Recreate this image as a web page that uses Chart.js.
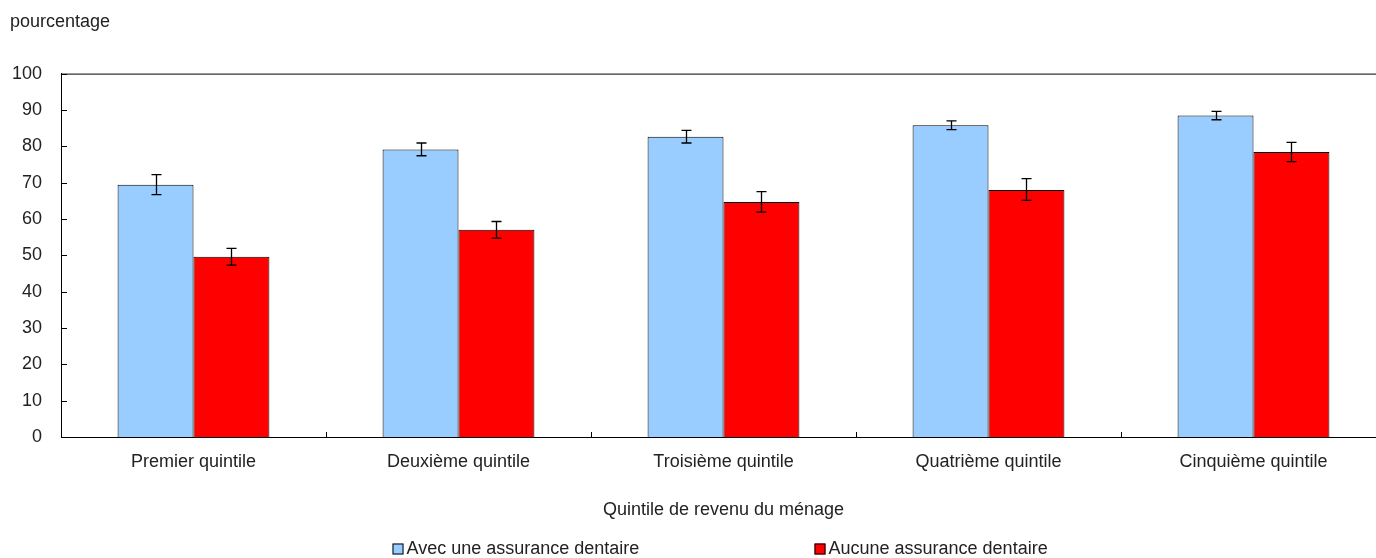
<!DOCTYPE html>
<html>
<head>
<meta charset="utf-8">
<script src="https://cdn.jsdelivr.net/npm/chart.js@4.4.1/dist/chart.umd.min.js"></script>
<style>
html, body { margin: 0; padding: 0; background: #fff; }
#wrap { width: 1376px; height: 558px; overflow: hidden; }
#inner { width: 1390px; height: 558px; }
</style>
</head>
<body>
<div id="wrap"><div id="inner"><canvas id="myChart"></canvas></div></div>
<script>
// donnees
var quintiles = ['Premier quintile', 'Deuxième quintile', 'Troisième quintile', 'Quatrième quintile', 'Cinquième quintile'];
var avecAssurance = [69.4, 79.1, 82.6, 85.8, 88.5];
var avecBas = [66.7, 77.4, 80.9, 84.6, 87.3];
var avecHaut = [72.2, 80.9, 84.4, 87.0, 89.6];
var aucuneAssurance = [49.6, 57.0, 64.7, 68.0, 78.4];
var aucuneBas = [47.3, 54.7, 61.9, 65.1, 75.8];
var aucuneHaut = [51.9, 59.3, 67.5, 71.1, 81.1];
var yTicks = [0, 10, 20, 30, 40, 50, 60, 70, 80, 90, 100];

var police = "'Liberation Sans', Arial, sans-serif";
var taille = 18;

// barres d'erreur, cadre et petites graduations vers l'interieur
var cadre = {
    id: 'cadre',
    afterDatasetsDraw: function(chart) {
        var c = chart.ctx;
        var a = chart.chartArea;
        var xs = chart.scales.x;
        var ys = chart.scales.y;
        var bornes = [[avecBas, avecHaut], [aucuneBas, aucuneHaut]];
        c.save();
        c.strokeStyle = '#000';
        c.lineWidth = 1.3;
        bornes.forEach(function(b, i) {
            chart.getDatasetMeta(i).data.forEach(function(el, j) {
                var x = Math.round(el.x) + 0.5;
                var y1 = ys.getPixelForValue(b[0][j]);
                var y2 = ys.getPixelForValue(b[1][j]);
                c.beginPath();
                c.moveTo(x, y1); c.lineTo(x, y2);
                c.moveTo(x - 5, y1); c.lineTo(x + 5, y1);
                c.moveTo(x - 5, y2); c.lineTo(x + 5, y2);
                c.stroke();
            });
        });
        c.lineWidth = 1;
        c.strokeRect(a.left + 0.5, a.top + 0.5, a.right - a.left - 1, a.bottom - a.top);
        c.beginPath();
        yTicks.forEach(function(v) {
            var y = Math.round(ys.getPixelForValue(v)) + 0.5;
            c.moveTo(a.left, y); c.lineTo(a.left + 6, y);
        });
        for (var i = 1; i < quintiles.length; i++) {
            var x = Math.round((xs.getPixelForValue(i - 1) + xs.getPixelForValue(i)) / 2) + 0.5;
            c.moveTo(x, a.bottom); c.lineTo(x, a.bottom - 5);
        }
        c.stroke();
        c.restore();
    }
};

// legende du bas, deux items
var legendeBas = {
    id: 'legendeBas',
    afterDraw: function(chart) {
        var c = chart.ctx;
        var a = chart.chartArea;
        var centre = (a.left + a.right) / 2;
        var depart = [centre - 331, centre + 91];
        var y = chart.height - 9;
        c.save();
        c.font = taille + 'px ' + police;
        c.textBaseline = 'middle';
        c.textAlign = 'left';
        chart.data.datasets.forEach(function(ds, i) {
            var x = depart[i];
            c.fillStyle = ds.backgroundColor;
            c.fillRect(x, y - 5.5, 11, 11);
            c.strokeStyle = '#000';
            c.lineWidth = 1;
            c.strokeRect(x + 0.5, y - 5, 10, 10);
            c.fillStyle = '#222';
            c.fillText(ds.label, x + 14, y);
        });
        c.restore();
    }
};

var ctx = document.getElementById('myChart').getContext('2d');
var myChart = new Chart(ctx,
{
    type: 'bar',
    data:
    {
        labels: quintiles,
        datasets:
        [
            {
                label: 'Avec une assurance dentaire',
                data: avecAssurance,
                backgroundColor: '#99CCFF',
                borderColor: '#000',
                borderWidth: 1
            },
            {
                label: 'Aucune assurance dentaire',
                data: aucuneAssurance,
                backgroundColor: '#FF0000',
                borderColor: '#000',
                borderWidth: 1
            }
        ]
    },
    options:
    {
        responsive: true,
        maintainAspectRatio: false,
        animation: false,
        layout: { padding: { left: 10, right: 4, top: 0, bottom: 30 } },
        datasets: { bar: { categoryPercentage: 0.573, barPercentage: 1 } },
        plugins:
        {
            legend: { display: false },
            tooltip: { enabled: false },
            title:
            {
                display: true,
                text: 'pourcentage',
                align: 'start',
                color: '#222',
                font: { family: police, size: taille, weight: 'normal' },
                padding: { top: 11, bottom: 41 }
            }
        },
        scales:
        {
            x:
            {
                grid: { display: false, drawTicks: false },
                border: { display: true, color: '#000', width: 1 },
                ticks: { color: '#222', padding: 14, font: { family: police, size: taille } },
                title:
                {
                    display: true,
                    text: 'Quintile de revenu du ménage',
                    color: '#222',
                    font: { family: police, size: taille },
                    padding: { top: 0, bottom: 7 }
                },
                afterFit: function(scale) { scale.height = 91; }
            },
            y:
            {
                min: 0,
                max: 100,
                grid: { display: false, drawTicks: false },
                border: { display: true, color: '#000', width: 1 },
                ticks: { stepSize: 10, color: '#222', padding: 19, font: { family: police, size: taille } },
                afterFit: function(scale) { scale.width = 51; }
            }
        }
    },
    plugins: [cadre, legendeBas]
});
</script>
</body>
</html>
